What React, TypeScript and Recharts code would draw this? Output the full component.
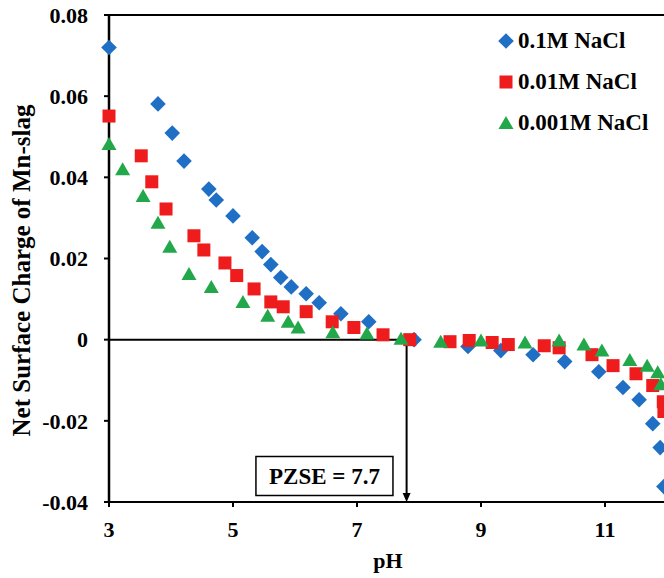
import {
  Legend,
  ReferenceArea,
  ReferenceLine,
  Scatter,
  ScatterChart,
  XAxis,
  YAxis,
} from "recharts";

const FONT = '"Liberation Serif", "Times New Roman", serif';

const seriesNames = ["0.1M NaCl", "0.01M NaCl", "0.001M NaCl"];
const seriesColors = ["#1f6fc5", "#ee1c1c", "#22a84a"];

// 0.1M NaCl
const ph01 = [
  3.0, 3.79, 4.02, 4.21, 4.61, 4.73, 5.0, 5.31, 5.47, 5.61, 5.77, 5.94, 6.18,
  6.39, 6.74, 7.19, 7.92, 8.79, 9.32, 9.84, 10.35, 10.9, 11.29, 11.55, 11.77,
  11.89, 11.95,
];
const charge01 = [
  0.072, 0.0581, 0.0509, 0.044, 0.0371, 0.0344, 0.0305, 0.0251, 0.0217,
  0.0185, 0.0153, 0.013, 0.0113, 0.0091, 0.0064, 0.0044, 0.0, -0.0017,
  -0.0027, -0.0037, -0.0054, -0.0079, -0.0118, -0.0148, -0.0207, -0.0266,
  -0.0362,
];

// 0.01M NaCl
const ph001 = [
  3.0, 3.52, 3.69, 3.92, 4.37, 4.53, 4.87, 5.06, 5.34, 5.61, 5.81, 6.18, 6.6,
  6.95, 7.42, 7.85, 8.5, 8.81, 9.18, 9.44, 10.02, 10.26, 10.79, 11.13, 11.5,
  11.77, 11.94, 11.95,
];
const charge001 = [
  0.0551, 0.0453, 0.0389, 0.0322, 0.0256, 0.0221, 0.0189, 0.0158, 0.0125,
  0.0093, 0.0081, 0.0069, 0.0044, 0.003, 0.0012, 0.0, -0.0005, -0.0002,
  -0.0007, -0.0012, -0.0015, -0.002, -0.0037, -0.0064, -0.0084, -0.0113,
  -0.0153, -0.0177,
];

// 0.001M NaCl
const ph0001 = [
  3.0, 3.22, 3.55, 3.79, 3.98, 4.29, 4.65, 5.16, 5.56, 5.89, 6.05, 6.61, 7.16,
  7.71, 8.35, 9.0, 9.71, 10.26, 10.66, 10.95, 11.4, 11.68, 11.85, 11.9,
];
const charge0001 = [
  0.0482, 0.042, 0.0354, 0.0288, 0.0229, 0.0162, 0.013, 0.0093, 0.0059,
  0.0044, 0.003, 0.0018, 0.0015, 0.0002, -0.0005, -0.0002, -0.0007, -0.0002,
  -0.0012, -0.0027, -0.005, -0.0064, -0.008, -0.011,
];

const xTicks = [3, 5, 7, 9, 11];
const yTicks = [-0.04, -0.02, 0, 0.02, 0.04, 0.06, 0.08];
const xDomain = [3, 12];
const yDomain = [-0.04, 0.08];

const pzseText = "PZSE = 7.7";
const pzseArrowPh = 7.8;
const pzseBoxPh = [5.37, 7.58];
const pzseBoxCharge = [-0.0384, -0.0288];

const toPoints = (xs: number[], ys: number[]) =>
  xs.map((ph, i) => ({ ph, charge: ys[i] }));

const textStyle = {
  fontFamily: FONT,
  fontWeight: 700,
  fontSize: 22,
  fill: "#000",
};

function Diamond({ cx, cy, fill }: any) {
  const r = 7.8;
  return (
    <polygon
      points={`${cx},${cy - r} ${cx + r},${cy} ${cx},${cy + r} ${cx - r},${cy}`}
      fill={fill}
    />
  );
}

function Square({ cx, cy, fill }: any) {
  return <rect x={cx - 6.5} y={cy - 6.5} width={13} height={13} fill={fill} />;
}

function Triangle({ cx, cy, fill }: any) {
  return (
    <polygon
      points={`${cx},${cy - 7} ${cx + 7.5},${cy + 6} ${cx - 7.5},${cy + 6}`}
      fill={fill}
    />
  );
}

const markers = [Diamond, Square, Triangle];

function LegendBox() {
  return (
    <div style={{ fontFamily: FONT, fontWeight: 700, fontSize: 23 }}>
      {seriesNames.map((name, i) => {
        const Marker = markers[i];
        return (
          <div
            key={name}
            style={{ display: "flex", alignItems: "center", height: 41 }}
          >
            <svg width={16} height={16} style={{ marginRight: 4 }}>
              <Marker cx={8} cy={8} fill={seriesColors[i]} />
            </svg>
            <span>{name}</span>
          </div>
        );
      })}
    </div>
  );
}

function ArrowDown(props: any) {
  const { x1, y1, x2, y2 } = props;
  return (
    <g>
      <line x1={x1} y1={y1} x2={x2} y2={y2 - 6} stroke="#000" strokeWidth={2} />
      <polygon
        points={`${x2 - 4},${y2 - 9} ${x2 + 4},${y2 - 9} ${x2},${y2}`}
        fill="#000"
      />
    </g>
  );
}

export default function App() {
  const series = [
    toPoints(ph01, charge01),
    toPoints(ph001, charge001),
    toPoints(ph0001, charge0001),
  ];

  return (
    <div
      style={{
        position: "absolute",
        left: 0,
        top: 0,
        width: 664,
        height: 578,
        overflow: "hidden",
        background: "#fff",
      }}
    >
      <ScatterChart
        width={680}
        height={578}
        margin={{ top: 15, right: 13, bottom: 0, left: 0 }}
      >
        <XAxis
          type="number"
          dataKey="ph"
          domain={xDomain}
          ticks={xTicks}
          height={76}
          axisLine={{ stroke: "#000", strokeWidth: 2 }}
          tickLine={{ stroke: "#000", strokeWidth: 2 }}
          tickSize={5}
          tickMargin={14}
          tick={textStyle}
          label={{
            content: (p: any) => {
              const vb = p.viewBox || { x: 109, y: 502, width: 558 };
              return (
                <text
                  x={vb.x + vb.width / 2}
                  y={vb.y + 66}
                  textAnchor="middle"
                  style={textStyle}
                >
                  pH
                </text>
              );
            },
          }}
        />
        <YAxis
          type="number"
          dataKey="charge"
          domain={yDomain}
          ticks={yTicks}
          width={109}
          axisLine={{ stroke: "#000", strokeWidth: 2 }}
          tickLine={{ stroke: "#000", strokeWidth: 2 }}
          tickSize={5}
          tickMargin={16}
          tick={textStyle}
          tickFormatter={(v: number) => (v === 0 ? "0" : v.toFixed(2))}
          label={{
            content: (p: any) => {
              const vb = p.viewBox || { x: 0, y: 15, height: 487 };
              const x = vb.x + 21;
              const y = vb.y + vb.height / 2 + 12;
              return (
                <text
                  x={x}
                  y={y}
                  transform={`rotate(-90 ${x} ${y})`}
                  textAnchor="middle"
                  dominantBaseline="central"
                  style={{ ...textStyle, fontSize: 25 }}
                >
                  Net Surface Charge of Mn-slag
                </text>
              );
            },
          }}
        />
        <ReferenceLine y={yDomain[1]} stroke="#000" strokeWidth={2} />
        <ReferenceLine
          segment={[
            { x: xDomain[0], y: yDomain[0] },
            { x: xDomain[0], y: yDomain[1] },
          ]}
          stroke="#000"
          strokeWidth={2.5}
          ifOverflow="visible"
        />
        <ReferenceLine x={xDomain[1]} stroke="#000" strokeWidth={2} />
        <ReferenceLine
          segment={[
            { x: xDomain[0], y: 0 },
            { x: pzseArrowPh, y: 0 },
          ]}
          stroke="#000"
          strokeWidth={2}
        />
        <ReferenceLine
          segment={[
            { x: pzseArrowPh, y: 0 },
            { x: pzseArrowPh, y: yDomain[0] },
          ]}
          shape={ArrowDown}
        />
        <ReferenceArea
          x1={pzseBoxPh[0]}
          x2={pzseBoxPh[1]}
          y1={pzseBoxCharge[0]}
          y2={pzseBoxCharge[1]}
          fill="#fff"
          fillOpacity={1}
          stroke="#000"
          strokeWidth={1.5}
          label={{
            value: pzseText,
            position: "center",
            style: { ...textStyle, fontSize: 23 },
          }}
        />
        <Legend
          layout="vertical"
          align="center"
          verticalAlign="middle"
          wrapperStyle={{ left: 498, top: 20, width: "auto" }}
          content={() => <LegendBox />}
        />
        {series.map((data, i) => (
          <Scatter
            key={seriesNames[i]}
            name={seriesNames[i]}
            data={data}
            fill={seriesColors[i]}
            shape={markers[i]}
            isAnimationActive={false}
          />
        ))}
      </ScatterChart>
    </div>
  );
}
